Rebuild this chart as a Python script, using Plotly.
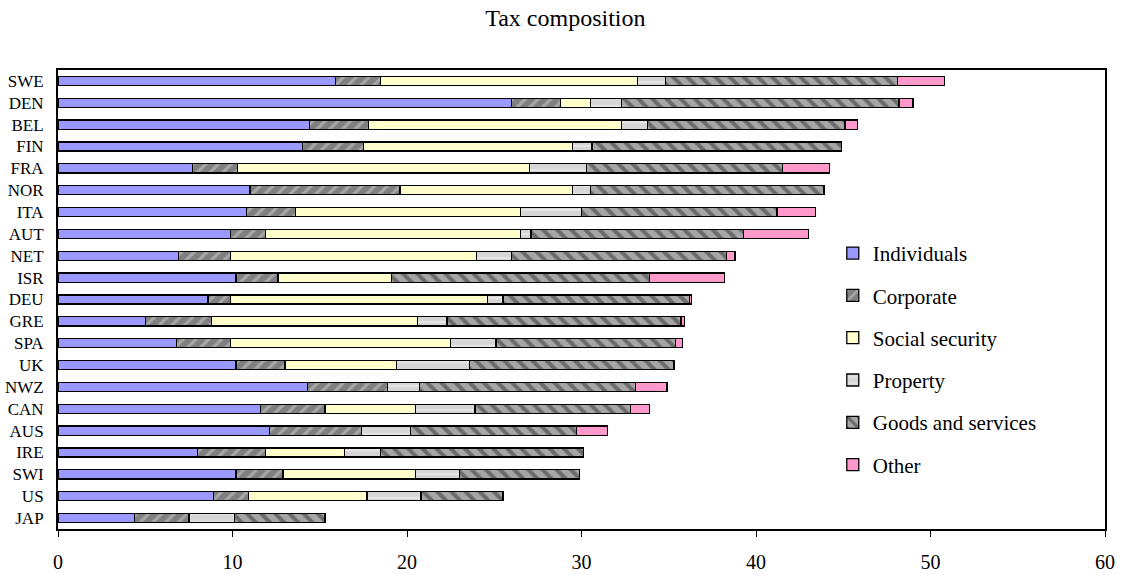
import plotly.graph_objects as go

countries = ["SWE", "DEN", "BEL", "FIN", "FRA", "NOR", "ITA", "AUT", "NET", "ISR", "DEU",
             "GRE", "SPA", "UK", "NWZ", "CAN", "AUS", "IRE", "SWI", "US", "JAP"]

individuals = [15.9, 26.0, 14.4, 14.0, 7.7, 11.0, 10.8, 9.9, 6.9, 10.2, 8.6,
               5.0, 6.8, 10.2, 14.3, 11.6, 12.1, 8.0, 10.2, 8.9, 4.4]
corporate = [2.6, 2.8, 3.4, 3.5, 2.6, 8.6, 2.8, 2.0, 3.0, 2.4, 1.3,
             3.8, 3.1, 2.8, 4.6, 3.7, 5.3, 3.9, 2.7, 2.0, 3.1]
social_security = [14.7, 1.7, 14.5, 12.0, 16.7, 9.9, 12.9, 14.6, 14.1, 6.5, 14.7,
                   11.8, 12.6, 6.4, 0.0, 5.2, 0.0, 4.5, 7.6, 6.8, 0.0]
property_tax = [1.6, 1.8, 1.5, 1.1, 3.3, 1.0, 3.5, 0.6, 2.0, 0.0, 0.9,
                1.7, 2.6, 4.2, 1.8, 3.4, 2.8, 2.1, 2.5, 3.1, 2.6]
goods_services = [13.3, 15.9, 11.3, 14.3, 11.2, 13.4, 11.2, 12.2, 12.3, 14.8, 10.7,
                  13.4, 10.3, 11.7, 12.4, 8.9, 9.5, 11.6, 6.9, 4.7, 5.2]
other = [2.7, 0.8, 0.7, 0.0, 2.7, 0.0, 2.2, 3.7, 0.5, 4.3, 0.1,
         0.2, 0.4, 0.0, 1.8, 1.1, 1.8, 0.0, 0.0, 0.0, 0.0]

x_ticks = [0, 10, 20, 30, 40, 50, 60]

series = [
    ("Individuals", individuals, dict(color="#9999ff")),
    ("Corporate", corporate, dict(color="#7f7f7f",
                                  pattern=dict(shape="/", bgcolor="#7f7f7f", fgcolor="#cfcfcf",
                                               size=9, solidity=0.35))),
    ("Social security", social_security, dict(color="#ffffcc")),
    ("Property", property_tax, dict(color="#d6d6d6",
                                    pattern=dict(shape="-", bgcolor="#d6d6d6", fgcolor="#f4f4f4",
                                                 size=8, solidity=0.25))),
    ("Goods and services", goods_services, dict(color="#a6a6a6",
                                                pattern=dict(shape="\\", bgcolor="#a6a6a6", fgcolor="#303030",
                                                             size=10, solidity=0.4))),
    ("Other", other, dict(color="#ff99cc")),
]

fig = go.Figure()
for name, vals, mk in series:
    mk = dict(mk)
    mk["line"] = dict(color="black", width=1.3)
    fig.add_trace(go.Bar(
        name=name, y=countries, x=vals, orientation="h",
        marker=mk, width=0.42, legendgroup=name,
    ))

font_family = "Liberation Serif"

fig.update_layout(
    barmode="stack",
    width=1124, height=575,
    margin=dict(l=58, r=19, t=70, b=46, autoexpand=False),
    paper_bgcolor="white", plot_bgcolor="white",
    font=dict(family=font_family, color="black"),
    title=dict(text="Tax composition", x=0.503, xref="container", xanchor="center",
               y=0.97, yref="container", yanchor="middle",
               font=dict(size=24, family=font_family, color="black")),
    showlegend=True,
    legend=dict(x=0.74, y=0.645, xanchor="left", yanchor="top",
                traceorder="grouped", tracegroupgap=12,
                font=dict(size=21, family=font_family, color="black"),
                bgcolor="rgba(0,0,0,0)"),
    xaxis=dict(range=[0, 60], tickvals=x_ticks, ticktext=[str(v) for v in x_ticks],
               showgrid=False, zeroline=False, showline=True, linecolor="black",
               linewidth=2, mirror=True, ticks="outside", ticklen=6, tickwidth=1,
               tickcolor="black", tickfont=dict(size=20), ticklabelstandoff=8,
               automargin=False),
    yaxis=dict(autorange="reversed", showgrid=False, zeroline=False, showline=True,
               linecolor="black", linewidth=2, mirror=True, ticks="",
               tickfont=dict(size=17), ticklabelstandoff=9, automargin=False),
)

fig.write_html("out.html")
